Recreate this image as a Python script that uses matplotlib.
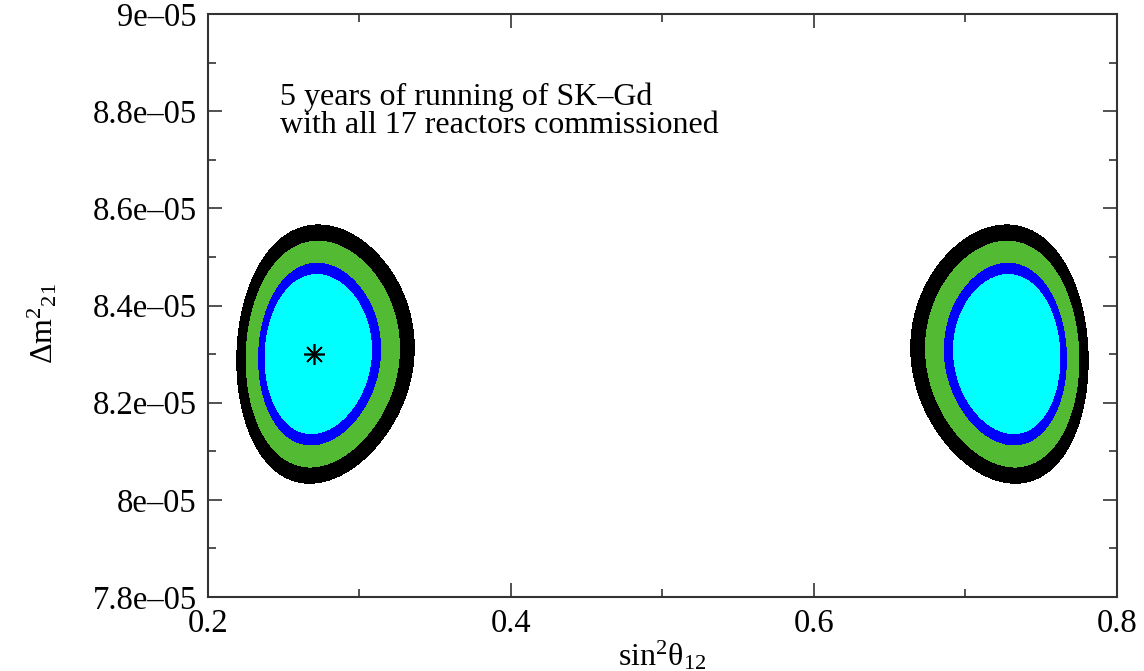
import matplotlib
matplotlib.use("Agg")
import matplotlib.pyplot as plt
import numpy as np
from matplotlib.ticker import MultipleLocator, FormatStrFormatter

plt.rcParams["font.family"] = "Liberation Serif"
plt.rcParams["axes.unicode_minus"] = True

# best fit point and 1-sigma errors of the reactor fit
s12_best = 0.27          # sin^2 theta12
dm21_best = 8.30e-5      # eV^2
sigma_s2t = 0.0303       # error on sin^2 2theta12
sigma_dm = 0.0773e-5     # error on dm21
rho = 0.05               # correlation sin^2 2theta12 - dm21

# delta chi^2 levels (2 dof): 90%, 95%, 99%, 99.73% C.L.
levels = [4.61, 5.99, 9.21, 11.83]
fill_colors = ["#00ffff", "#0000ff", "#53bb33", "#000000"]

xticks = [0.2, 0.4, 0.6, 0.8]
yticks = [7.8e-5, 8.0e-5, 8.2e-5, 8.4e-5, 8.6e-5, 8.8e-5, 9.0e-5]

# chi^2 surface on the (sin^2 theta12, dm21) plane
s = np.linspace(0.2, 0.8, 900)
dm = np.linspace(7.8e-5, 9.0e-5, 700)
S, DM = np.meshgrid(s, dm)
u = (4 * S * (1 - S) - 4 * s12_best * (1 - s12_best)) / sigma_s2t
v = (DM - dm21_best) / sigma_dm
chi2 = (u**2 - 2 * rho * u * v + v**2) / (1 - rho**2)

fig = plt.figure(figsize=(11.44, 6.71), dpi=100)
ax = fig.add_axes([0.1818, 0.1103, 0.7946, 0.8688])

bounds = [-1] + levels
ax.contourf(S, DM, chi2, levels=bounds, colors=fill_colors)
ax.plot(s12_best, dm21_best, marker=(8, 2, 0), color="black",
        markersize=15, markeredgewidth=1.2, linestyle="none")

ax.set_xlim(0.2, 0.8)
ax.set_ylim(7.8e-5, 9.0e-5)
ax.set_xticks(xticks)
ax.set_yticks(yticks)
ax.xaxis.set_minor_locator(MultipleLocator(0.1))
ax.yaxis.set_minor_locator(MultipleLocator(0.1e-5))
ax.xaxis.set_major_formatter(FormatStrFormatter("%g"))
ax.set_yticklabels([f"{t:.1e}".replace(".0e", "e").replace("-", "\u2013") for t in yticks])

ax.tick_params(which="both", direction="in", top=True, right=True,
               labelsize=23.5, color="#333333", pad=8)
ax.tick_params(which="major", length=10, width=1.2)
ax.tick_params(which="minor", length=6, width=1.2)
for sp in ax.spines.values():
    sp.set_color("#333333")
    sp.set_linewidth(1.5)

ax.set_xlabel(r"$\mathregular{sin^2\theta_{12}}$", fontsize=23, labelpad=0)
ax.set_ylabel(r"$\mathregular{\Delta m^2{}_{21}}$", fontsize=23)
ax.yaxis.set_label_coords(-0.163, 0.47)

ax.text(0.2475, 8.80e-5, "5 years of running of SK\u2013Gd\nwith all 17 reactors commissioned",
        fontsize=23, va="center", ha="left", linespacing=0.95)

fig.savefig("out.png", dpi=100)
